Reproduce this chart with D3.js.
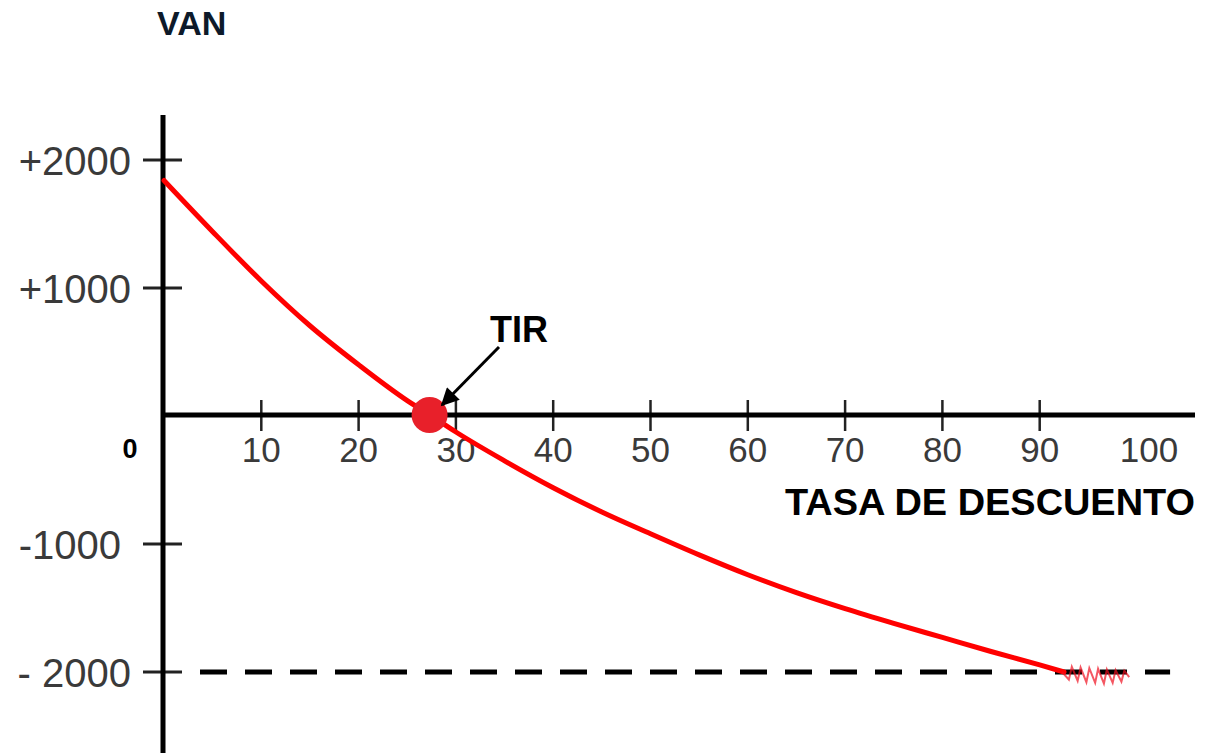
<!DOCTYPE html>
<html>
<head>
<meta charset="utf-8">
<script src="https://cdn.jsdelivr.net/npm/d3@7"></script>
<style>
  html, body { margin: 0; padding: 0; background: #fff; }
  svg { display: block; }
</style>
</head>
<body>
<svg id="chart" width="1215" height="753"></svg>
<script>
// ---- data ----
const rates = [0, 5, 10, 15, 20, 25, 27.5, 30, 35, 40, 45, 50, 55, 60, 65, 70, 75, 80, 85, 90, 92.5];
const van   = [1840, 1440, 1055, 705, 400, 120, 0, -125, -350, -560, -750, -920, -1085, -1240, -1380, -1505, -1620, -1730, -1840, -1945, -2000];
const scribbleRates = [92.3, 93.0, 93.3, 93.9, 94.2, 94.8, 95.1, 95.7, 96.0, 96.6, 96.9, 97.5, 97.8, 98.4, 98.7, 99.2];
const scribbleVan   = [-2000, -2060, -1960, -2070, -1965, -2080, -1970, -2085, -1975, -2090, -1980, -2085, -1985, -2075, -1990, -2040];
const xTickValues = [10, 20, 30, 40, 50, 60, 70, 80, 90];
const xTickLabels = ["10", "20", "30", "40", "50", "60", "70", "80", "90", "100"];
const xLabelValues = [10, 20, 30, 40, 50, 60, 70, 80, 90, 100];
const yTickValues = [2000, 1000, -1000, -2000];
const yTickLabels = ["+2000", "+1000", "-1000", "- 2000"];
const tirRate = 27.5;
const floorValue = -2000;

// ---- scales ----
const x = d3.scaleLinear().domain([0, 100]).range([164, 1137]);
const y = d3.scaleLinear().domain([-2000, 2000]).range([672, 160]);

const svg = d3.select("#chart");
svg.append("rect").attr("width", 1215).attr("height", 753).attr("fill", "#fff");

const defs = svg.append("defs");
defs.append("marker")
  .attr("id", "arrow")
  .attr("viewBox", "0 0 10 10")
  .attr("refX", 9).attr("refY", 5)
  .attr("markerWidth", 7).attr("markerHeight", 6)
  .attr("markerUnits", "strokeWidth")
  .attr("orient", "auto")
  .append("path").attr("d", "M0,0 L10,5 L0,10 Z").attr("fill", "#000");

// dashed floor line
svg.append("line")
  .attr("x1", x(0) + 36).attr("x2", x(103.4))
  .attr("y1", y(floorValue)).attr("y2", y(floorValue))
  .attr("stroke", "#000").attr("stroke-width", 5)
  .attr("stroke-dasharray", "27,18");

// y axis ticks
svg.selectAll(".ytick").data(yTickValues).enter().append("line")
  .attr("x1", x(0) - 21).attr("x2", x(0) + 18)
  .attr("y1", d => y(d)).attr("y2", d => y(d))
  .attr("stroke", "#222").attr("stroke-width", 3);

// y tick labels
svg.selectAll(".ylab").data(yTickValues).enter().append("text")
  .attr("x", (d, i) => i === 2 ? 121 : 131)
  .attr("y", d => y(d) + 15)
  .attr("text-anchor", "end")
  .attr("font-family", "Liberation Sans, Arial, sans-serif")
  .attr("font-size", 40)
  .attr("fill", "#3a3a3a")
  .text((d, i) => yTickLabels[i]);

// x axis ticks
svg.selectAll(".xtick").data(xTickValues).enter().append("line")
  .attr("x1", d => x(d)).attr("x2", d => x(d))
  .attr("y1", y(0) - 16).attr("y2", y(0) + 15)
  .attr("stroke", "#222").attr("stroke-width", 2.5);

// x tick labels
svg.selectAll(".xlab").data(xLabelValues).enter().append("text")
  .attr("x", d => x(d) + (d === 100 ? 12 : 0))
  .attr("y", 462)
  .attr("text-anchor", "middle")
  .attr("font-family", "Liberation Sans, Arial, sans-serif")
  .attr("font-size", 35)
  .attr("fill", "#3a3a3a")
  .text((d, i) => xTickLabels[i]);

// axes lines
svg.append("line")
  .attr("x1", x(0) - 2).attr("x2", 1195)
  .attr("y1", y(0) - 1).attr("y2", y(0) - 1)
  .attr("stroke", "#000").attr("stroke-width", 5);
svg.append("line")
  .attr("x1", x(0) - 1).attr("x2", x(0) - 1)
  .attr("y1", 115).attr("y2", 753)
  .attr("stroke", "#000").attr("stroke-width", 5);

// curve
const pts = rates.map((r, i) => [r, van[i]]);
const line = d3.line().x(d => x(d[0])).y(d => y(d[1])).curve(d3.curveMonotoneX);
svg.append("path").datum(pts)
  .attr("d", line)
  .attr("fill", "none").attr("stroke", "#ff0000").attr("stroke-width", 5)
  .attr("stroke-linecap", "round");

// scribble
const sPts = scribbleRates.map((r, i) => [r, scribbleVan[i]]);
svg.append("path").datum(sPts)
  .attr("d", d3.line().x(d => x(d[0])).y(d => y(d[1])))
  .attr("fill", "none").attr("stroke", "#f01020").attr("stroke-width", 2)
  .attr("stroke-opacity", 0.7);

// TIR dot
svg.append("circle")
  .attr("cx", x(tirRate) - 2).attr("cy", y(0) - 1)
  .attr("r", 18).attr("fill", "#e8202a");

// arrow
svg.append("line")
  .attr("x1", 499).attr("y1", 347)
  .attr("x2", 442).attr("y2", 405)
  .attr("stroke", "#000").attr("stroke-width", 3)
  .attr("marker-end", "url(#arrow)");

// labels
const bold = "Liberation Sans, Arial, sans-serif";
svg.append("text").attr("x", 157).attr("y", 35)
  .attr("font-family", bold).attr("font-weight", "bold").attr("font-size", 34)
  .attr("fill", "#0d1a2a").text("VAN");
svg.append("text").attr("x", 490).attr("y", 342)
  .attr("font-family", bold).attr("font-weight", "bold").attr("font-size", 36)
  .attr("fill", "#000").text("TIR");
svg.append("text").attr("x", 785).attr("y", 515)
  .attr("font-family", bold).attr("font-weight", "bold").attr("font-size", 37)
  .attr("textLength", 410).attr("lengthAdjust", "spacingAndGlyphs")
  .attr("fill", "#000").text("TASA DE DESCUENTO");
svg.append("text").attr("x", 130).attr("y", 458)
  .attr("text-anchor", "middle")
  .attr("font-family", bold).attr("font-weight", "bold").attr("font-size", 27)
  .attr("fill", "#000").text("0");
</script>
</body>
</html>
